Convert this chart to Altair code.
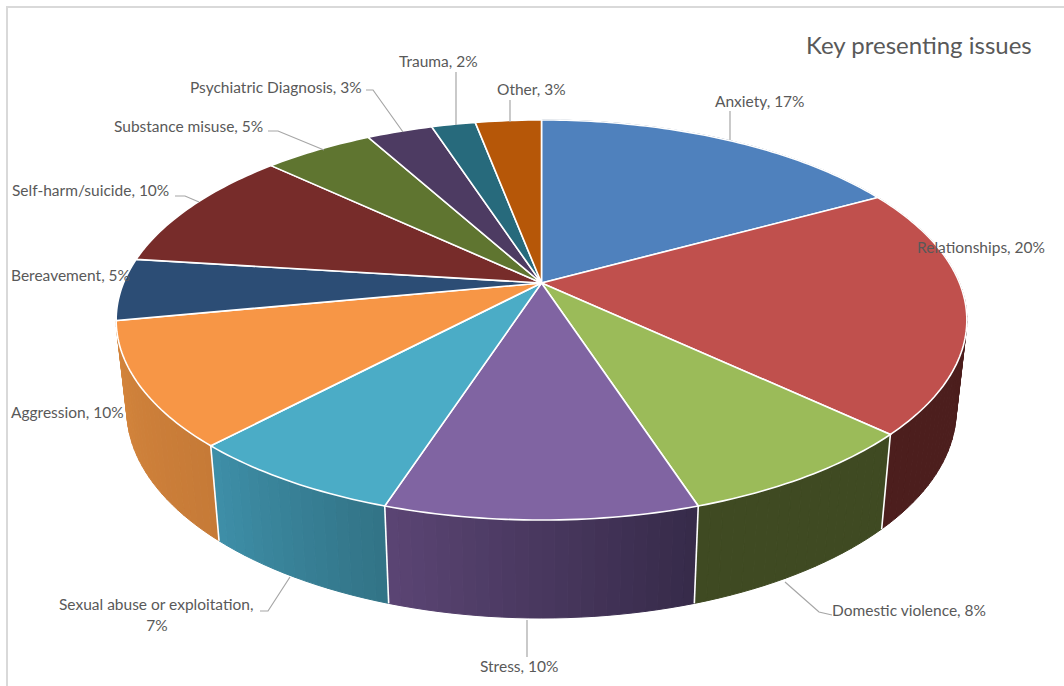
import math
import altair as alt
import pandas as pd

# Survey results
categories = ["Anxiety", "Relationships", "Domestic violence", "Stress",
              "Sexual abuse or exploitation", "Aggression", "Bereavement",
              "Self-harm/suicide", "Substance misuse", "Psychiatric Diagnosis",
              "Trauma", "Other"]
percentages = [17, 20, 8, 10, 7, 10, 5, 10, 5, 3, 2, 3]

# Slice colours, and the shading of each outer wall along its run
top_colors = ["#4f81bd", "#c0504d", "#9bbb59", "#8064a2", "#4bacc6", "#f79646",
              "#2c4d75", "#772c2a", "#5f7530", "#4d3b62", "#276a7c", "#b65708"]
wall_colors = {
    "Anxiety": ("#2f4d71", "#2f4d71"),
    "Relationships": ("#4c1e1d", "#4c1e1d"),
    "Domestic violence": ("#3f4a22", "#3f4a22"),
    "Stress": ("#362a49", "#5b4574"),
    "Sexual abuse or exploitation": ("#327386", "#3e8fa8"),
    "Aggression": ("#c67a37", "#d4853c"),
}

# Projection of the tilted disc onto the page
CX, CY = 541.5, 283.0
RX, RY, TILT = 418.0, 193.2, 0.185
WALL_X, WALL_Y, WALL_DROP = 0.975, 1.04, 88.5


def top_point(deg):
    a = math.radians(deg)
    px, py = math.sin(a), -math.cos(a)
    w = 1 - TILT * py
    return [RX * px / w, RY * py / w]


def rim(deg):
    x, y = top_point(deg)
    return [CX + x, CY + y]


def foot(deg):
    x, y = top_point(deg)
    return [CX + x * WALL_X, CY + y * WALL_Y + WALL_DROP]


def mix(c1, c2, t):
    a = [int(c1[i:i + 2], 16) for i in (1, 3, 5)]
    b = [int(c2[i:i + 2], 16) for i in (1, 3, 5)]
    return "#" + "".join(f"{round(p + (q - p) * t):02x}" for p, q in zip(a, b))


def feature(geom_type, coords, fill, line):
    return {"type": "Feature",
            "geometry": {"type": geom_type, "coordinates": coords},
            "properties": {"fill": fill, "line": line}}


def collection(features):
    return alt.InlineData(values={"type": "FeatureCollection", "features": features},
                          format=alt.DataFormat(property="features", type="json"))


# Turn the percentages into slice boundaries, clockwise from twelve o'clock
bounds = [0.0]
for p in percentages:
    bounds.append(bounds[-1] + p * 3.6)
spans = list(zip(categories, bounds[:-1], bounds[1:]))

walls, edges, tops = [], [], []
for name, start, end in spans:
    if name in wall_colors:
        n = max(2, int((end - start) / 1.5))
        for i in range(n):
            a0 = start + (end - start) * i / n
            a1 = start + (end - start) * (i + 1) / n
            color = mix(wall_colors[name][0], wall_colors[name][1], (i + 0.5) / n)
            walls.append(feature("Polygon",
                                 [[rim(a0), rim(a1), foot(a1), foot(a0), rim(a0)]],
                                 color, color))
    if 100 < end < 250:
        edges.append(feature("LineString", [rim(end), foot(end)], "none", "#ffffff"))

for (name, start, end), color in zip(spans, top_colors):
    steps = max(2, int(end - start))
    ring = [[CX, CY]] + [rim(start + (end - start) * i / steps) for i in range(steps + 1)] + [[CX, CY]]
    tops.append(feature("Polygon", [ring], color, "#ffffff"))

projection = dict(type="identity", scale=1, translate=[0, 0])

wall_layer = alt.Chart(collection(walls)).mark_geoshape(strokeWidth=1).encode(
    fill=alt.Fill("properties.fill:N", scale=None),
    stroke=alt.Stroke("properties.line:N", scale=None),
).project(**projection)

edge_layer = alt.Chart(collection(edges)).mark_geoshape(filled=False, strokeWidth=1.6, stroke="#ffffff").project(**projection)

top_layer = alt.Chart(collection(tops)).mark_geoshape(strokeWidth=1.6).encode(
    fill=alt.Fill("properties.fill:N", scale=None),
    stroke=alt.Stroke("properties.line:N", scale=None),
).project(**projection)

# Leader lines from the labels to their slices
leaders = [
    [[730, 111], [730, 140]],
    [[510, 100], [510, 122]],
    [[456, 72], [456, 125]],
    [[366, 90], [373, 90], [403, 132]],
    [[268, 131], [278, 131], [324, 150]],
    [[175, 196], [185, 196], [199, 202]],
    [[260, 611], [268, 611], [290, 577]],
    [[785, 582], [819, 612], [832, 615]],
    [[527, 620], [527, 657]],
]
leader_layer = alt.Chart(collection(
    [feature("LineString", pts, "none", "#a6a6a6") for pts in leaders]
)).mark_geoshape(filled=False, stroke="#a6a6a6", strokeWidth=1.2).project(**projection)

# Label placement for each slice, in page pixels
label_rows = [
    ("Anxiety, 17%", 715, 102), ("Relationships, 20%", 917, 248),
    ("Domestic violence, 8%", 832, 611), ("Stress, 10%", 480, 667),
    ("Sexual abuse or exploitation,", 59, 605), ("Aggression, 10%", 11, 413),
    ("Bereavement, 5%", 11, 276), ("Self-harm/suicide, 10%", 12, 191),
    ("Substance misuse, 5%", 114, 127), ("Psychiatric Diagnosis, 3%", 190, 88),
    ("Trauma, 2%", 399, 62), ("Other, 3%", 497, 90),
]
labels = pd.DataFrame(label_rows, columns=["text", "x", "y"])
FONT = "Lato"
label_layer = alt.Chart(labels).mark_text(
    font=FONT, fontSize=15.5, align="left", baseline="middle", color="#595959"
).encode(x=alt.X("x:Q", scale=None), y=alt.Y("y:Q", scale=None), text="text:N")

second_line = alt.Chart(pd.DataFrame({"text": ["7%"], "x": [157], "y": [626]})).mark_text(
    font=FONT, fontSize=15.5, align="center", baseline="middle", color="#595959"
).encode(x=alt.X("x:Q", scale=None), y=alt.Y("y:Q", scale=None), text="text:N")

title_layer = alt.Chart(pd.DataFrame({"text": ["Key presenting issues"], "x": [806], "y": [47]})).mark_text(
    font=FONT, fontSize=24, align="left", baseline="middle", color="#595959"
).encode(x=alt.X("x:Q", scale=None), y=alt.Y("y:Q", scale=None), text="text:N")

# Chart frame: only its top and left sides fall on the page
frame_layer = alt.Chart(collection([
    feature("LineString", [[7, 686], [7, 7], [1064, 7]], "none", "#d9d9d9")
])).mark_geoshape(filled=False, stroke="#d9d9d9", strokeWidth=2).project(**projection)

chart = alt.layer(
    frame_layer, wall_layer, edge_layer, top_layer, leader_layer,
    label_layer, second_line, title_layer,
).properties(
    width=1064, height=686, padding=0, autosize=alt.AutoSizeParams(type="none"),
    background="#ffffff",
).configure_view(stroke=None)

chart.save("out.html", embed_options={"renderer": "svg", "actions": False})
